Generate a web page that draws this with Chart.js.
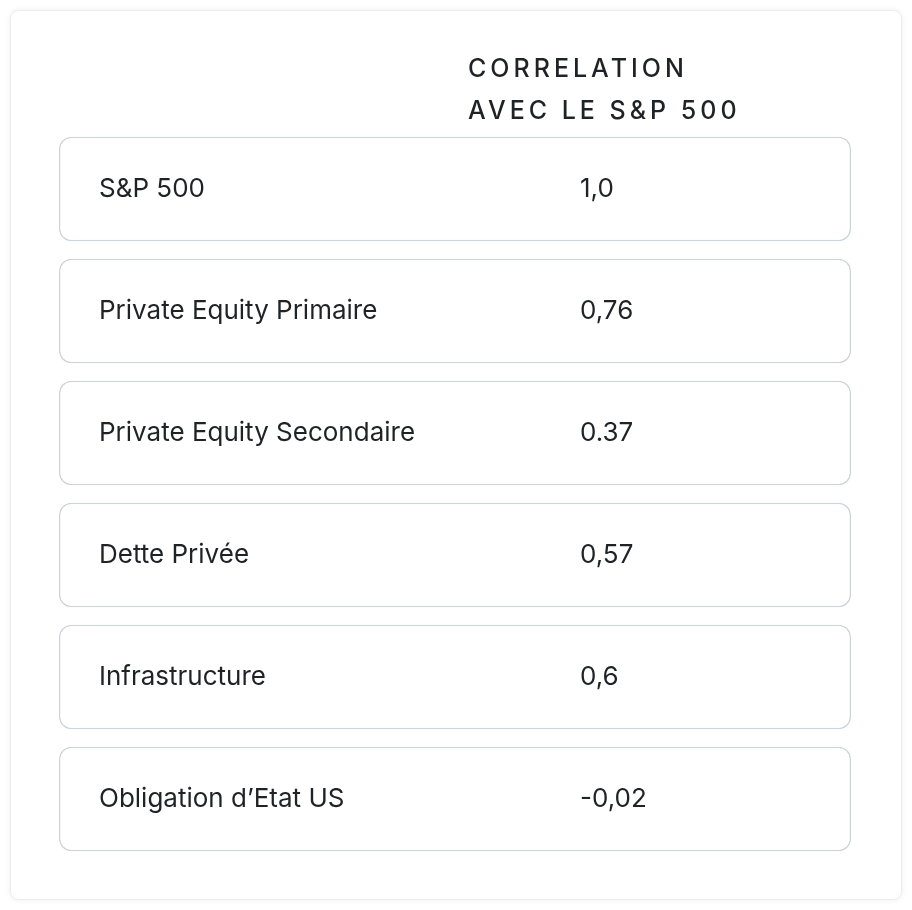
<!DOCTYPE html>
<html><head><meta charset="utf-8">
<script src="https://cdn.jsdelivr.net/npm/chart.js@4"></script>
<style>html,body{margin:0;padding:0;background:#fff}#w{width:912px;height:910px}</style>
</head><body><div id="w"><canvas id="c"></canvas></div>
<script>
const categories = ["S&P 500","Private Equity Primaire","Private Equity Secondaire","Dette Privée","Infrastructure","Obligation d’Etat US"];
const valueLabels = ["1,0","0,76","0.37","0,57","0,6","-0,02"];
const correlations = [1.0,0.76,0.37,0.57,0.6,-0.02];
const headerLines = ["CORRELATION","AVEC LE S&P 500"];

const tablePlugin = {
  id:'table',
  beforeDraw(chart){
    const ctx=chart.ctx;
    ctx.save();
    ctx.shadowColor='rgba(0,0,0,0.08)';ctx.shadowBlur=6;
    ctx.fillStyle='#fff';ctx.strokeStyle='#ececec';ctx.lineWidth=1;
    ctx.beginPath();ctx.roundRect(10.5,10.5,891,889,8);ctx.fill();ctx.shadowBlur=0;ctx.stroke();
    ctx.restore();
  },
  afterDatasetsDraw(chart){
    const ctx=chart.ctx, y=chart.scales.y;
    ctx.save();
    ctx.fillStyle='#1f2326';
    ctx.font='500 25px Inter, "Noto Sans", sans-serif';
    ctx.letterSpacing='4px';
    ctx.textBaseline='middle';
    headerLines.forEach((t,i)=>ctx.fillText(t,468,69+i*42));
    ctx.letterSpacing='0px';
    ctx.font='400 26px Inter, "Noto Sans", sans-serif';
    categories.forEach((c,i)=>{
      const yc=y.getPixelForValue(i);
      ctx.fillText(c,99,yc);
      ctx.fillText(valueLabels[i],580,yc);
    });
    ctx.restore();
  }
};

new Chart(document.getElementById('c'),{
  type:'bar',
  data:{labels:categories,datasets:[{
    data:correlations.map(()=>[0,1]),
    backgroundColor:'#fff',borderColor:'#cdd5dc',borderWidth:1.5,
    borderRadius:12,borderSkipped:false,barPercentage:0.855,categoryPercentage:1
  }]},
  options:{
    indexAxis:'y',responsive:true,maintainAspectRatio:false,animation:false,
    layout:{padding:{top:128,bottom:50,left:59,right:61}},
    scales:{x:{display:false,min:0,max:1},y:{display:false}},
    plugins:{legend:{display:false},tooltip:{enabled:false}}
  },
  plugins:[tablePlugin]
});
</script></body></html>
